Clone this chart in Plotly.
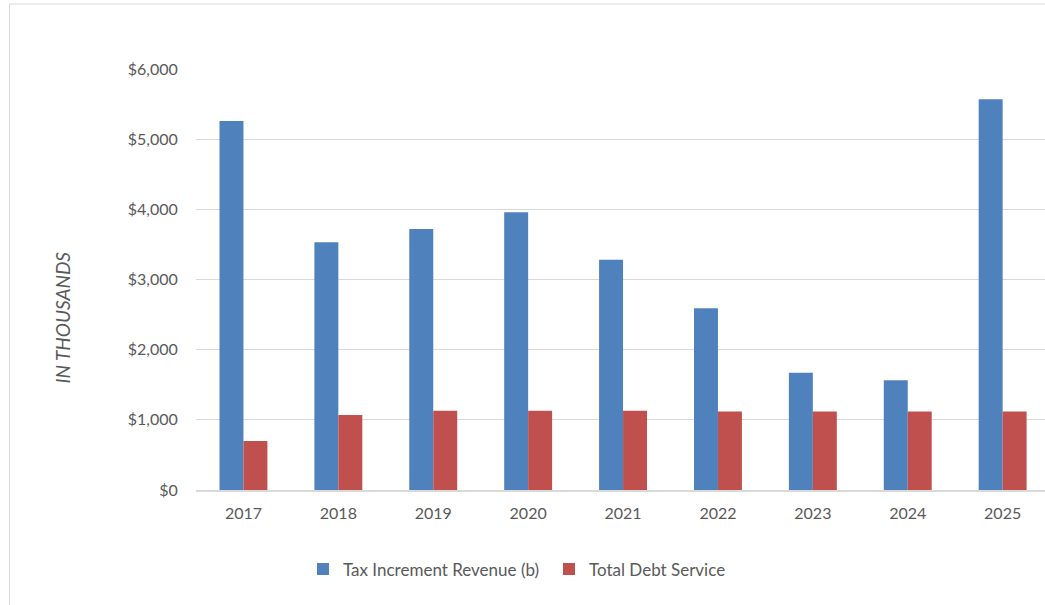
import plotly.graph_objects as go

# Tax increment revenue vs. total debt service, in thousands of dollars
years = ["2017", "2018", "2019", "2020", "2021", "2022", "2023", "2024", "2025"]
tax_increment_revenue = [5260, 3530, 3720, 3960, 3280, 2590, 1670, 1565, 5570]
total_debt_service = [700, 1070, 1130, 1130, 1130, 1120, 1120, 1120, 1120]
y_ticks = [0, 1000, 2000, 3000, 4000, 5000, 6000]
y_tick_labels = ["$0", "$1,000", "$2,000", "$3,000", "$4,000", "$5,000", "$6,000"]

BLUE = "#4F81BD"
RED = "#C0504D"
TEXT = "#595959"
GRID = "#D9D9D9"
FONT = "Lato, 'Open Sans', sans-serif"

W, H = 1045, 605
L, R, T, B = 196, 0, 68.6, 114.7
plot_w = W - L - R
plot_h = H - T - B


def px_x(px):
    return (px - L) / plot_w


def px_y(py):
    return (H - B - py) / plot_h


fig = go.Figure()
fig.add_trace(go.Bar(
    x=years, y=tax_increment_revenue, name="Tax Increment Revenue (b)",
    marker=dict(color=BLUE, line=dict(width=0)),
))
fig.add_trace(go.Bar(
    x=years, y=total_debt_service, name="Total Debt Service",
    marker=dict(color=RED, line=dict(width=0)),
))

cat_px = 94.9
fig.update_layout(
    width=W, height=H,
    margin=dict(l=L, r=R, t=T, b=B, pad=0),
    paper_bgcolor="white", plot_bgcolor="white",
    barmode="group", bargap=0.495, bargroupgap=0,
    font=dict(family=FONT, size=16, color=TEXT),
    showlegend=True,
    legend=dict(
        orientation="h", x=px_x(303), xanchor="left",
        y=px_y(570), yanchor="middle",
        font=dict(family=FONT, size=17, color=TEXT),
        itemwidth=30, traceorder="normal",
        entrywidth=201, entrywidthmode="pixels",
    ),
    xaxis=dict(
        type="category", range=[-0.5, -0.5 + plot_w / cat_px],
        showgrid=False, showline=True, linecolor=GRID, linewidth=2,
        ticks="outside", ticklen=8, tickcolor="rgba(0,0,0,0)",
        tickfont=dict(family=FONT, size=16, color=TEXT),
        fixedrange=True,
    ),
    yaxis=dict(
        range=[0, 6000], tickvals=y_ticks, ticktext=y_tick_labels,
        showgrid=True, gridcolor=GRID, gridwidth=1,
        zeroline=False, showline=False,
        ticks="outside", ticklen=14, tickcolor="rgba(0,0,0,0)",
        tickfont=dict(family=FONT, size=16, color=TEXT),
        fixedrange=True,
    ),
)

# Axis caption
fig.add_annotation(
    text="IN THOUSANDS", xref="paper", yref="paper",
    x=px_x(62), y=px_y(317.5), xanchor="center", yanchor="middle",
    textangle=-90, showarrow=False,
    font=dict(family=FONT, size=19, color=TEXT, style="italic"),
)

# Chart frame
fig.add_shape(
    type="path", xref="paper", yref="paper",
    path=f"M {px_x(9.5)} {px_y(640)} L {px_x(9.5)} {px_y(3.5)} L {px_x(1080)} {px_y(3.5)}",
    line=dict(color=GRID, width=1),
)

fig.write_html("out.html", config=dict(displayModeBar=False))
